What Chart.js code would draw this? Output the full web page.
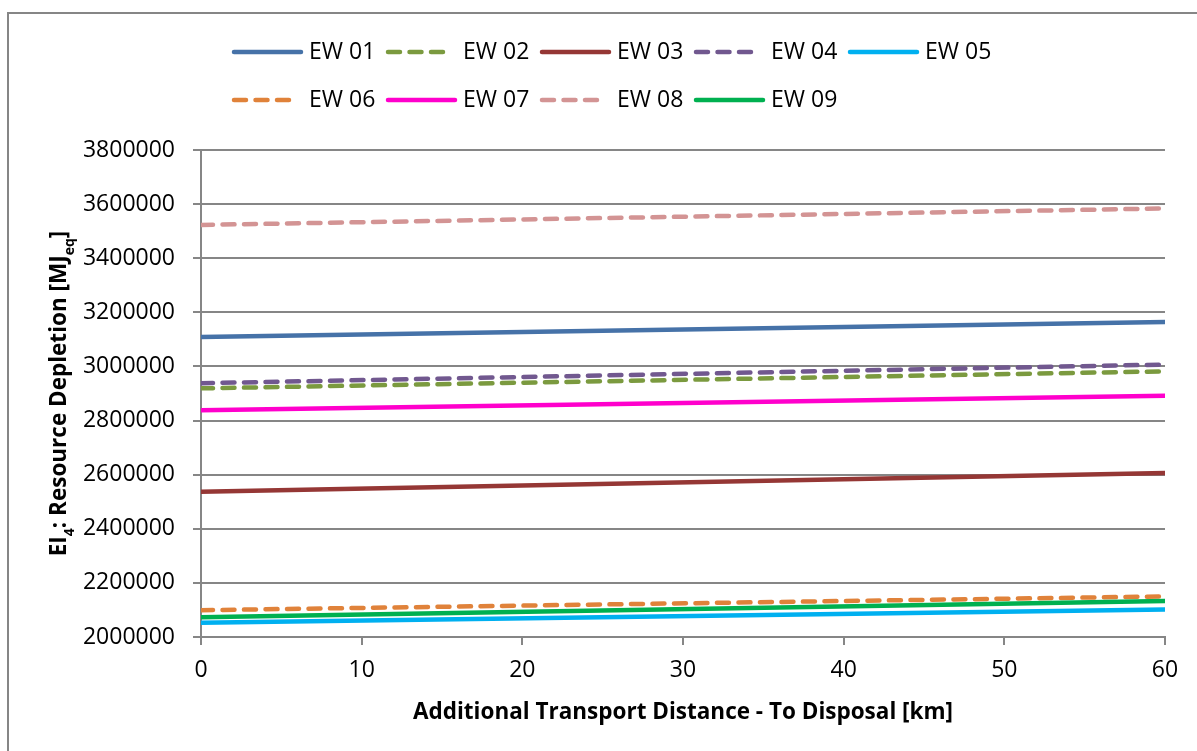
<!DOCTYPE html>
<html>
<head>
<meta charset="utf-8">
<script src="https://cdn.jsdelivr.net/npm/chart.js@4"></script>
<style>
  html, body { margin: 0; padding: 0; background: #fff; }
  #wrap { width: 1197px; height: 751px; }
</style>
</head>
<body>
<div id="wrap"><canvas id="chart" width="1197" height="751"></canvas></div>
<script>
// distance to disposal [km]
const distances = [0, 60];

// resource depletion [MJeq] at 0 km and 60 km
const ew01 = [3109000, 3164000];
const ew02 = [2919000, 2982000];
const ew03 = [2537000, 2606000];
const ew04 = [2938000, 3007000];
const ew05 = [2053000, 2102000];
const ew06 = [2099000, 2150000];
const ew07 = [2838000, 2892000];
const ew08 = [3523000, 3584000];
const ew09 = [2073000, 2133000];

const seriesNames = ["EW 01", "EW 02", "EW 03", "EW 04", "EW 05", "EW 06", "EW 07", "EW 08", "EW 09"];
const seriesValues = [ew01, ew02, ew03, ew04, ew05, ew06, ew07, ew08, ew09];
const seriesColors = ["#4672A8", "#7B9A3F", "#953735", "#71588F", "#00B0F0", "#E0823A", "#FF00CC", "#D39494", "#00B050"];
const seriesDashed = [false, true, false, true, false, true, false, true, false];

const yMin = 2000000, yMax = 3800000, yStep = 200000;
const xMin = 0, xMax = 60, xStep = 10;

const FONT = "'Open Sans'";
const GRID = "#868686";
const DASH = [12, 9.5];

const datasets = seriesNames.map((name, i) => ({
  label: name,
  data: distances.map((d, j) => ({ x: d, y: seriesValues[i][j] })),
  borderColor: seriesColors[i],
  backgroundColor: seriesColors[i],
  borderWidth: 4.5,
  borderDash: seriesDashed[i] ? DASH : [],
  borderCapStyle: "round",
  borderJoinStyle: "round",
  pointRadius: 0,
  fill: false,
  tension: 0,
  order: seriesNames.length - i // later series on top, like Excel
}));

// frame, legend and the y title (it has subscripts)
const decor = {
  id: "decor",
  beforeDraw(chart) {
    const ctx = chart.ctx;
    ctx.save();
    ctx.fillStyle = "#fff";
    ctx.fillRect(0, 0, chart.width, chart.height);
    ctx.restore();
  },
  afterDraw(chart) {
    const ctx = chart.ctx;
    ctx.save();
    ctx.strokeStyle = GRID;
    ctx.lineWidth = 2;
    ctx.beginPath();
    ctx.moveTo(8, chart.height + 5);
    ctx.lineTo(8, 13);
    ctx.lineTo(chart.width + 5, 13);
    ctx.stroke();

    // legend, 5 per row
    chart.data.datasets.forEach((ds, i) => {
      const x = 232 + (i % 5) * 154;
      const y = 52 + Math.floor(i / 5) * 48;
      const dashed = ds.borderDash.length > 0;
      ctx.strokeStyle = ds.borderColor;
      ctx.lineWidth = 4.5;
      ctx.lineCap = "round";
      ctx.setLineDash(ds.borderDash);
      ctx.beginPath();
      ctx.moveTo(x + 2, y);
      ctx.lineTo(x + (dashed ? 64 : 69), y);
      ctx.stroke();
      ctx.setLineDash([]);
      ctx.fillStyle = "#000";
      ctx.font = "23px " + FONT;
      ctx.textBaseline = "middle";
      ctx.textAlign = "left";
      ctx.fillText(ds.label, x + 77, y);
    });

    // y axis title with subscripts
    const parts = [["EI", false], ["4", true], [": Resource Depletion [MJ", false], ["eq", true], ["]", false]];
    const big = "bold 22.5px " + FONT, small = "bold 14px " + FONT;
    let total = 0;
    parts.forEach(p => { ctx.font = p[1] ? small : big; total += ctx.measureText(p[0]).width; });
    const a = chart.chartArea;
    ctx.translate(66, (a.top + a.bottom) / 2);
    ctx.rotate(-Math.PI / 2);
    ctx.textBaseline = "alphabetic";
    ctx.fillStyle = "#000";
    let cx = -total / 2;
    parts.forEach(p => {
      ctx.font = p[1] ? small : big;
      ctx.fillText(p[0], cx, p[1] ? 8 : 0);
      cx += ctx.measureText(p[0]).width;
    });
    ctx.restore();
  }
};

const chart = new Chart(document.getElementById("chart"), {
  type: "line",
  data: { datasets },
  options: {
    responsive: false,
    animation: false,
    layout: { padding: { left: 0, right: 32, top: 150, bottom: 0 } },
    plugins: {
      legend: { display: false },
      tooltip: { enabled: false }
    },
    scales: {
      x: {
        type: "linear",
        min: xMin,
        max: xMax,
        afterFit: s => { s.height = 114; },
        ticks: {
          stepSize: xStep,
          color: "#000",
          padding: 12,
          font: { family: FONT, size: 23 }
        },
        grid: { drawOnChartArea: false, drawTicks: true, tickLength: 8, color: GRID, lineWidth: 2 },
        border: { display: true, color: GRID, width: 2 },
        title: {
          display: true,
          text: "Additional Transport Distance - To Disposal [km]",
          color: "#000",
          font: { family: FONT, size: 22.5, weight: "bold", lineHeight: 1.2 },
          padding: { top: 0, bottom: 25 }
        }
      },
      y: {
        min: yMin,
        max: yMax,
        afterFit: s => { s.width = 201; },
        ticks: {
          stepSize: yStep,
          color: "#000",
          padding: 18,
          font: { family: FONT, size: 23 },
          callback: v => String(v)
        },
        grid: { color: GRID, lineWidth: 2, tickLength: 8 },
        border: { display: true, color: GRID, width: 2 }
      }
    }
  },
  plugins: [decor]
});
</script>
</body>
</html>
